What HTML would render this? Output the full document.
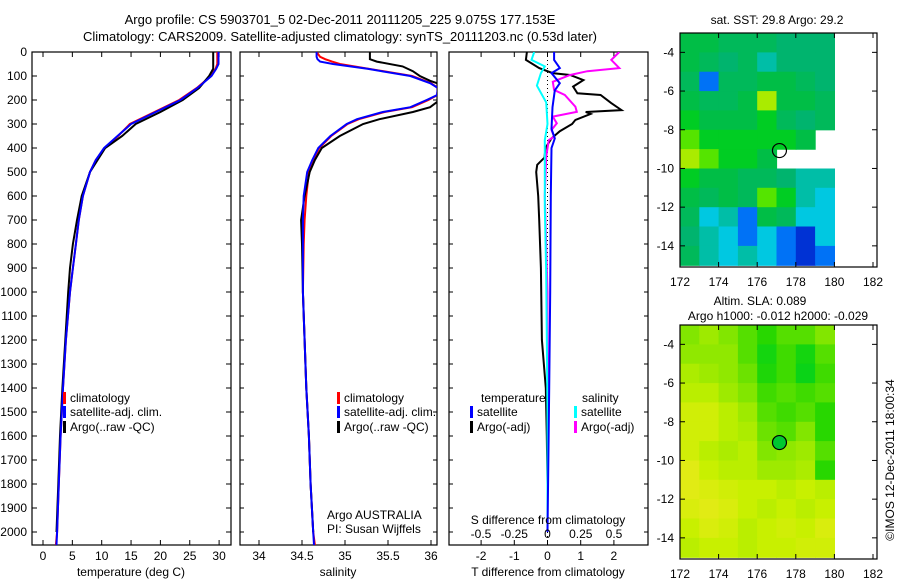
<!DOCTYPE html>
<html><head><meta charset="utf-8"><style>
html,body{margin:0;padding:0;background:#fff;}
svg{display:block;font-family:"Liberation Sans",sans-serif;}
text{font-size:12px;fill:#000;}
</style></head><body>
<svg id="fig" width="900" height="580" viewBox="0 0 900 580">
<defs>
<clipPath id="c1"><rect x="32" y="52" width="199" height="493"/></clipPath>
<clipPath id="c2"><rect x="240" y="52" width="197" height="493"/></clipPath>
<clipPath id="c3"><rect x="449" y="52" width="199" height="493"/></clipPath>
</defs>
<text x="340" y="24" text-anchor="middle" style="font-size:13px">Argo profile: CS 5903701_5 02-Dec-2011 20111205_225 9.075S 177.153E</text>
<text x="340" y="41" text-anchor="middle" style="font-size:13px">Climatology: CARS2009. Satellite-adjusted climatology: synTS_20111203.nc (0.53d later)</text>
<g id="layer"></g>
</svg>
<script>
// ---- data ----
const tDepth = [0,50,70,100,150,200,250,300,350,400,450,500,600,700,800,900,1000,1200,1400,1600,1800,2000,2054];
const tClim  = [29.7,29.7,29.4,28.6,26.2,23.2,19.0,14.8,12.8,10.5,9.0,8.0,6.8,6.1,5.6,5.1,4.6,3.9,3.4,3.0,2.7,2.4,2.2];
const tSat   = [29.9,29.9,29.5,28.7,26.3,23.4,19.2,15.0,12.7,10.4,9.0,8.0,6.8,6.1,5.6,5.1,4.6,3.9,3.4,3.0,2.7,2.4,2.3];
const tArgoDepth = [0,70,100,150,200,250,300,350,400,500,600,700,800,900,1000,1200,1400,1600,1800,2000];
const tArgo  = [29.0,29.0,28.3,26.6,23.8,20.0,15.8,13.5,10.6,8.0,6.6,5.8,5.1,4.6,4.3,3.8,3.3,2.9,2.6,2.3];

const sDepth = [0,20,30,40,50,70,100,130,150,180,200,230,250,280,300,350,400,450,500,600,700,800,1000,1400,1600,1800,2000,2054];
const sSat   = [34.67,34.67,34.68,34.71,34.86,35.26,35.76,35.99,36.08,36.07,35.95,35.76,35.44,35.14,35.02,34.83,34.69,34.62,34.56,34.52,34.51,34.51,34.51,34.55,34.58,34.60,34.63,34.64];
const sClim  = [34.67,34.71,34.77,34.85,34.94,35.28,35.78,36.0,36.08,36.07,35.97,35.78,35.46,35.16,35.03,34.84,34.70,34.63,34.58,34.55,34.53,34.52,34.51,34.55,34.58,34.60,34.63,34.65];
const sArgoDepth = [0,30,40,60,80,100,120,130,150,200,230,250,280,300,350,400,450,500,600,700,800,1000,1400,1600,1800,2000];
const sArgo  = [35.29,35.29,35.37,35.67,35.79,35.87,35.99,36.07,36.2,36.1,35.99,35.79,35.40,35.21,34.94,34.73,34.65,34.59,34.53,34.49,34.50,34.51,34.55,34.58,34.60,34.63];

const dtArgoDepth = [0,33,67,88,96,117,144,172,179,213,242,250,258,283,300,330,360,400,440,470,500,600,700,900,1200,1400,1600,1800,2000];
const dtArgo = [-0.62,-0.65,-0.25,0.15,0.68,1.08,0.77,0.9,1.6,1.92,2.23,1.15,1.3,0.84,0.74,0.37,0.12,-0.06,-0.09,-0.31,-0.34,-0.28,-0.25,-0.2,-0.17,-0.05,-0.02,0,0];
const dtSatDepth = [0,33,67,88,130,160,230,320,360,400,600,1000,1400,2000];
const dtSat  = [0.2,0.2,0.37,0.12,0.37,0.22,0.15,0.12,0.22,0.12,0.1,0.08,0.05,0.0];
const dsSatDepth = [0,33,60,88,140,210,300,367,644,922,1500,2000];
const dsSat  = [-0.1,-0.12,-0.02,-0.05,-0.08,-0.01,0,-0.02,-0.02,-0.01,0,0];
const dsArgoDepth = [0,33,67,80,96,124,158,179,228,249,269,297,325,353,367,436,600,1000,2000];
const dsArgo = [0.54,0.48,0.54,0.3,0.17,0.04,0.05,0.13,0.21,0.22,0.04,0.07,0.03,0.05,0.01,-0.01,-0.02,0,0];

const depthTicks = [0,100,200,300,400,500,600,700,800,900,1000,1100,1200,1300,1400,1500,1600,1700,1800,1900,2000];
const tTicks = [0,5,10,15,20,25,30];
const sTicks = [34,34.5,35,35.5,36];
const sTickLabels = ["34","34.5","35","35.5","36"];
const dtTicks = [-2,-1,0,1,2];
const dsTicks = [-0.5,-0.25,0,0.25,0.5];
const dsTickLabels = ["-0.5","-0.25","0","0.25","0.5"];

const lonTicks = [172,174,176,178,180,182];
const latTicks = [-4,-6,-8,-10,-12,-14];
const sstGrid = [
 [0.55,0.55,0.5,0.5,0.5,0.45,0.45,0.45],
 [0.55,0.5,0.45,0.5,0.4,0.45,0.45,0.45],
 [0.5,0.3,0.5,0.5,0.55,0.55,0.5,0.45],
 [0.55,0.5,0.5,0.55,0.75,0.55,0.55,0.5],
 [0.6,0.55,0.55,0.55,0.6,0.5,0.45,0.5],
 [0.7,0.6,0.6,0.6,0.6,0.6,0.55,null],
 [0.75,0.7,0.6,0.6,0.55,null,null,null],
 [0.6,0.55,0.55,0.5,0.5,0.45,0.4,0.4],
 [0.55,0.5,0.55,0.5,0.7,0.6,0.4,0.35],
 [0.5,0.35,0.4,0.3,0.55,0.5,0.35,0.35],
 [0.45,0.4,0.35,0.3,0.35,0.3,0.25,0.35],
 [0.5,0.4,0.35,0.4,0.35,0.3,0.25,0.3]];
const slaGrid = [
 [0.5,0.6,0.5,0.4,0.3,0.4,0.4,0.5],
 [0.55,0.55,0.55,0.4,0.2,0.35,0.2,0.4],
 [0.65,0.6,0.55,0.45,0.25,0.35,0.15,0.35],
 [0.7,0.7,0.6,0.5,0.35,0.4,0.35,0.4],
 [0.8,0.8,0.7,0.6,0.4,0.35,0.4,0.3],
 [0.8,0.8,0.7,0.65,0.45,0.4,0.5,0.3],
 [0.8,0.7,0.65,0.7,0.5,0.55,0.6,0.4],
 [0.9,0.75,0.7,0.7,0.6,0.6,0.65,0.3],
 [0.9,0.85,0.8,0.75,0.75,0.7,0.75,0.7],
 [0.85,0.9,0.85,0.75,0.7,0.75,0.7,0.75],
 [0.75,0.85,0.8,0.7,0.75,0.8,0.75,0.85],
 [0.7,0.75,0.75,0.7,0.75,0.75,0.8,0.8]];
const argoLon = 177.153, argoLat = -9.075;

// ---- helpers ----
const NS = "http://www.w3.org/2000/svg";
const L = document.getElementById('layer');
function el(tag, attrs, parent){ const e=document.createElementNS(NS,tag); for(const k in attrs) e.setAttribute(k,attrs[k]); (parent||L).appendChild(e); return e; }
function txt(x,y,s,anchor,size){ const t=el('text',{x:x,y:y,'text-anchor':anchor||'start'}); if(size) t.style.fontSize=size+'px'; t.textContent=s; return t; }
const yD = d => 52 + 0.24*d;
const xT = v => 43 + 5.87*v;
const xS = v => 259 + 86*(v-34);
const xDT = v => 547.5 + 33.2*v;
const xDS = v => 547.5 + 133*v;
function line(xs, ds, xf, color, clip, name){
  const p = xs.map((v,i)=> xf(v).toFixed(1)+','+yD(ds[i]).toFixed(1)).join(' ');
  const e = el('polyline',{points:p,fill:'none',stroke:color,'stroke-width':2,'clip-path':'url(#'+clip+')'});
  
  
}
function box(x,y,w,h,name){ const r=el('rect',{x:x,y:y,width:w,height:h,fill:'none',stroke:'#000','stroke-width':1.2});   }
function legend(x,y,color,label){ el('rect',{x:x,y:y-10,width:3,height:12,fill:color}); const t=txt(x+7,y,label);   }

// ---- panel 1: temperature ----
box(32,52,199,493,'temperature-panel');
depthTicks.forEach(d=>{ const y=yD(d); el('line',{x1:32,x2:37,y1:y,y2:y,stroke:'#000'}); el('line',{x1:226,x2:231,y1:y,y2:y,stroke:'#000'});
  el('line',{x1:240,x2:244,y1:y,y2:y,stroke:'#000'}); el('line',{x1:433,x2:437,y1:y,y2:y,stroke:'#000'});
  el('line',{x1:449,x2:453,y1:y,y2:y,stroke:'#000'}); el('line',{x1:644,x2:648,y1:y,y2:y,stroke:'#000'});
  const t=txt(27,y+4,String(d),'end');   });
tTicks.forEach(v=>{ const x=xT(v); el('line',{x1:x,x2:x,y1:545,y2:540,stroke:'#000'}); el('line',{x1:x,x2:x,y1:52,y2:57,stroke:'#000'}); txt(x,560,String(v),'middle'); });
txt(131,576,'temperature (deg C)','middle');
line(tClim,tDepth,xT,'#ff0000','c1','temp-climatology-line');
line(tArgo,tArgoDepth,xT,'#000000','c1','temp-argo-line');
line(tSat,tDepth,xT,'#0000ff','c1','temp-satellite-line');
legend(63,402,'#ff0000','climatology');
legend(63,416,'#0000ff','satellite-adj. clim.');
legend(63,431,'#000000','Argo(..raw -QC)');

// ---- panel 2: salinity ----
box(240,52,197,493,'salinity-panel');
sTicks.forEach((v,i)=>{ const x=xS(v); el('line',{x1:x,x2:x,y1:545,y2:540,stroke:'#000'}); el('line',{x1:x,x2:x,y1:52,y2:57,stroke:'#000'}); txt(x,560,sTickLabels[i],'middle'); });
txt(338,576,'salinity','middle');
line(sClim,sDepth,xS,'#ff0000','c2','sal-climatology-line');
line(sArgo,sArgoDepth,xS,'#000000','c2','sal-argo-line');
line(sSat,sDepth,xS,'#0000ff','c2','sal-satellite-line');
legend(337,402,'#ff0000','climatology');
legend(337,416,'#0000ff','satellite-adj. clim.');
legend(337,431,'#000000','Argo(..raw -QC)');
txt(327,519,'Argo AUSTRALIA');
txt(327,533,'PI: Susan Wijffels');

// ---- panel 3: differences ----
box(449,52,199,493,'difference-panel');
el('line',{x1:xDT(0),x2:xDT(0),y1:52,y2:545,stroke:'#000','stroke-dasharray':'1,3'});
dtTicks.forEach(v=>{ const x=xDT(v); el('line',{x1:x,x2:x,y1:545,y2:540,stroke:'#000'}); el('line',{x1:x,x2:x,y1:52,y2:57,stroke:'#000'}); txt(x,560,String(v),'middle'); });
txt(548,576,'T difference from climatology','middle');
line(dtArgo,dtArgoDepth,xDT,'#000000','c3','t-diff-argo-line');
line(dsArgo,dsArgoDepth,xDS,'#ff00ff','c3','s-diff-argo-line');
line(dsSat,dsSatDepth,xDS,'#00ffff','c3','s-diff-satellite-line');
line(dtSat,dtSatDepth,xDT,'#0000ff','c3','t-diff-satellite-line');
txt(548,524,'S difference from climatology','middle');
dsTicks.forEach((v,i)=>{ const x=xDS(v); txt(x,538,dsTickLabels[i],'middle'); });
txt(481,402,'temperature');
txt(582,402,'salinity');
legend(470,416,'#0000ff','satellite');
legend(470,431,'#000000','Argo(-adj)');
legend(574,416,'#00ffff','satellite');
legend(574,431,'#ff00ff','Argo(-adj)');

// ---- maps ----
function lerpC(stops, v){ for(let i=0;i<stops.length-1;i++){ const a=stops[i],b=stops[i+1]; if(v<=b[0]){ const t=(v-a[0])/(b[0]-a[0]); return 'rgb('+[1,2,3].map(k=>Math.round(a[k]+(b[k]-a[k])*t)).join(',')+')'; } } const s=stops[stops.length-1]; return 'rgb('+s[1]+','+s[2]+','+s[3]+')'; }
const sstStops=[[0.2,0,0,140],[0.28,0,80,255],[0.35,0,200,225],[0.45,0,180,110],[0.55,0,190,70],[0.65,0,220,0],[0.75,170,235,0],[0.85,230,240,0]];
const slaStops=[[0.1,0,210,30],[0.3,40,215,0],[0.5,130,230,0],[0.75,200,240,0],[0.9,225,235,20]];
function map(top, grid, stops, name, dotFill){
  const x0=680, kx=19.3, yTop=top, ky=19.35;
  const xL = lon => x0 + kx*(lon-172);
  const yL = lat => yTop + ky*(-3 - lat);
  const g = el('g',{});  
  grid.forEach((row,r)=>row.forEach((v,c)=>{ if(v===null) return;
    const cell=el('rect',{x:xL(172+c).toFixed(1),y:yL(-3-r).toFixed(1),width:kx+0.6,height:ky+0.6,fill:lerpC(stops,v)},g);
      }));
  box(680,top,197,234,name+'-frame');
  lonTicks.forEach(v=>{ const x=xL(v); el('line',{x1:x,x2:x,y1:top+234,y2:top+229,stroke:'#000'}); el('line',{x1:x,x2:x,y1:top,y2:top+5,stroke:'#000'}); txt(x,top+253,String(v),'middle'); });
  latTicks.forEach(v=>{ const y=yL(v); el('line',{x1:680,x2:685,y1:y,y2:y,stroke:'#000'}); el('line',{x1:872,x2:877,y1:y,y2:y,stroke:'#000'}); txt(674,y+4,String(v),'end'); });
  const c=el('circle',{cx:xL(argoLon),cy:yL(argoLat),r:7,fill:dotFill,stroke:'#000','stroke-width':1.2});
   
}
map(33, sstGrid, sstStops, 'sst-map', 'none');
map(325, slaGrid, slaStops, 'sla-map', '#00c830');
txt(777,24,'sat. SST: 29.8 Argo: 29.2','middle');
txt(760,305,'Altim. SLA: 0.089','middle');
txt(778,320,'Argo h1000: -0.012 h2000: -0.029','middle');
const cr=txt(0,0,'©IMOS 12-Dec-2011 18:00:34','middle'); cr.setAttribute('transform','translate(894,460) rotate(-90)');


</script>
</body></html>
